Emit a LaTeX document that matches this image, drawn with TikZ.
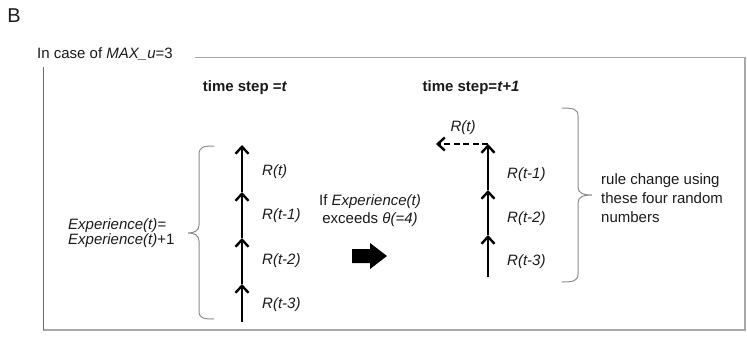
\documentclass[tikz,border=0pt]{standalone}
\usepackage{fontspec}
\setmainfont{Liberation Sans}
\usetikzlibrary{arrows.meta}
\definecolor{ink}{HTML}{1A1A1A}
\definecolor{framegray}{HTML}{A8A8A8}
\definecolor{framedark}{HTML}{6A6A6A}
\definecolor{bracegray}{HTML}{8C8C8C}
\tikzset{
  txt/.style={inner sep=0pt, text=ink, font=\fontsize{15}{18}\selectfont},
  hdr/.style={txt, font=\fontsize{15}{18}\selectfont\bfseries},
  rlabel/.style={txt, anchor=west, font=\fontsize{15}{18}\selectfont\itshape},
  seq/.style={line width=2.6pt, draw=black, line cap=butt,
    -{Straight Barb[length=7pt,width=13pt,line width=2.4pt]}},
  dseq/.style={seq, dash pattern=on 6pt off 3.5pt},
  brace/.style={draw=bracegray, line width=1pt},
}
\begin{document}
\begin{tikzpicture}[x=1pt,y=-1pt]
\useasboundingbox (0,0) rectangle (747,338);

% panel letter and frame caption
\node[txt, font=\fontsize{20}{24}\selectfont] (panel) at (14,16) {B};
\node[txt, anchor=west] (caption) at (37,54) {In case of \textit{MAX\_u}=3};

% frame
\coordinate (fTS) at (195,57.5);
\coordinate (fTR) at (745,57.5);
\coordinate (fBR) at (745,330);
\coordinate (fBL) at (43,330);
\coordinate (fLS) at (43,67);
\draw[framegray, line width=1.6pt] (fTS) -- (fTR) -- (fBR) -- (fBL);
\draw[framedark, line width=1pt] (fLS) -- (fBL);

% headings
\node[hdr] (hA) at (245,88) {time step =\textit{t}};
\node[hdr] (hB) at (471,88) {time step=\textit{t+1}};

% left sequence of random numbers
\coordinate (a0) at (242,322);
\coordinate (a1) at (242,284);
\coordinate (a2) at (242,238);
\coordinate (a3) at (242,192);
\coordinate (a4) at (242,145);
\draw[seq] (a0) -- (a1);
\draw[seq] (a1) -- (a2);
\draw[seq] (a2) -- (a3);
\draw[seq] (a3) -- (a4);
\node[rlabel] (la) at (262,172) {R(t)};
\node[rlabel] (lb) at (262,216) {R(t-1)};
\node[rlabel] (lc) at (262,261) {R(t-2)};
\node[rlabel] (ld) at (262,305) {R(t-3)};

% left brace
\draw[brace] (214,146) .. controls (203,146) and (199,147) .. (199,155)
  -- (199,225) .. controls (199,231) and (194,233) .. (188,233)
  .. controls (194,233) and (199,235) .. (199,241)
  -- (199,311) .. controls (199,318) and (203,319) .. (214,319);
\node[txt, anchor=west, align=left, font=\fontsize{15}{15}\selectfont\itshape]
  (exp) at (68,233) {Experience(t)=\\Experience(t)\upshape+1};

% condition and transition arrow
\node[txt, align=center] (cond) at (370,211) {If \textit{Experience(t)}\\exceeds \textit{θ(=4)}};
\fill[black] (352,249) -- (370,249) -- (370,243) -- (387,256) -- (370,269)
  -- (370,263) -- (352,263) -- cycle;

% right sequence after the shift
\coordinate (b0) at (488,277);
\coordinate (b1) at (488,235);
\coordinate (b2) at (488,190);
\coordinate (b3) at (488,144);
\coordinate (bout) at (436,144);
\draw[seq] (b0) -- (b1);
\draw[seq] (b1) -- (b2);
\draw[seq] (b2) -- (b3);
\draw[dseq] (b3) -- (bout);
\node[txt, font=\fontsize{15}{18}\selectfont\itshape] (lr0) at (463,128) {R(t)};
\node[rlabel] (lr1) at (507,175) {R(t-1)};
\node[rlabel] (lr2) at (507,219) {R(t-2)};
\node[rlabel] (lr3) at (507,262) {R(t-3)};

% right brace
\draw[brace] (562,108) .. controls (573,108) and (578,109) .. (578,116)
  -- (578,187) .. controls (578,193) and (583,195) .. (592,195)
  .. controls (583,195) and (578,197) .. (578,203)
  -- (578,274) .. controls (578,281) and (573,282) .. (562,282);
\node[txt, anchor=west, align=left, font=\fontsize{15}{19}\selectfont]
  (rule) at (601,198) {rule change using\\these four random\\numbers};
\end{tikzpicture}
\end{document}
